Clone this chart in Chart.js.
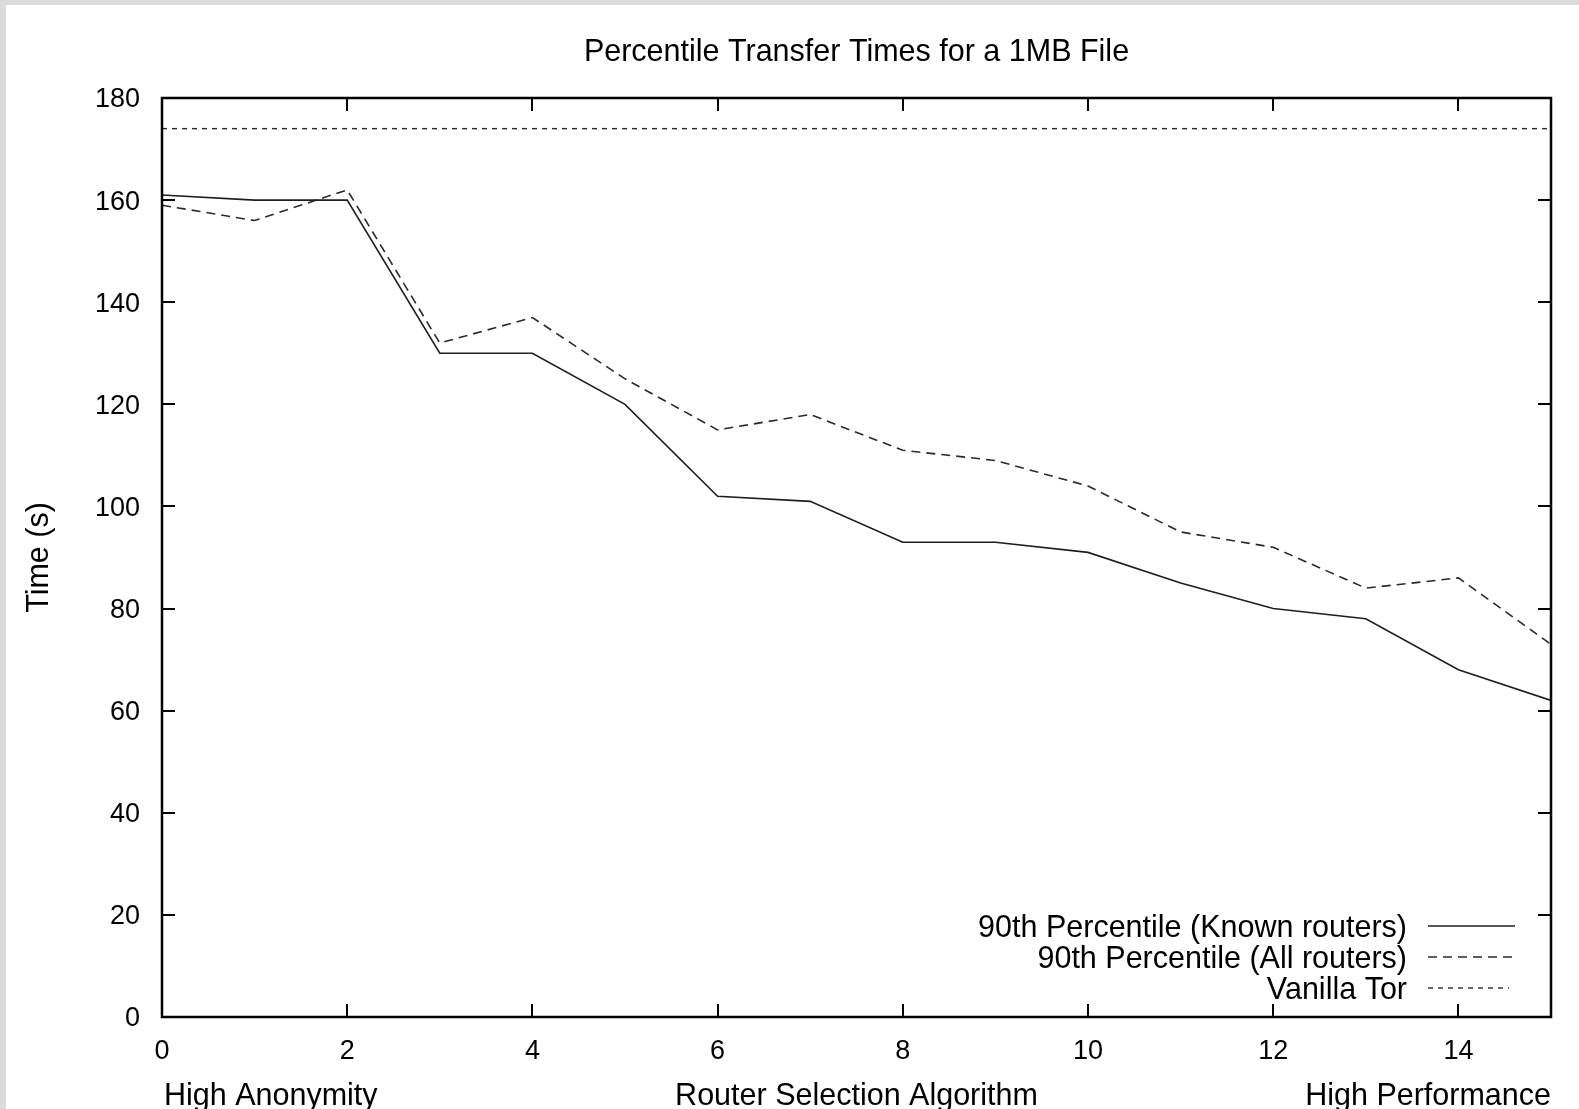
<!DOCTYPE html>
<html>
<head>
<meta charset="utf-8">
<title>Percentile Transfer Times for a 1MB File</title>
<script src="https://cdn.jsdelivr.net/npm/chart.js@4.4.1/dist/chart.umd.min.js"></script>
<style>
  html, body { margin: 0; padding: 0; background: #ffffff; }
  canvas { display: block; }
</style>
</head>
<body>
<canvas id="chart" width="1579" height="1109"></canvas>
<script>
// Router selection algorithm index (0 = high anonymity ... 15 = high performance)
const algorithms = [0, 1, 2, 3, 4, 5, 6, 7, 8, 9, 10, 11, 12, 13, 14, 15];

// 90th percentile transfer time (s) for a 1MB file
const knownRouters = [161, 160, 160, 130, 130, 120, 102, 101, 93, 93, 91, 85, 80, 78, 68, 62];
const allRouters   = [159, 156, 162, 132, 137, 125, 115, 118, 111, 109, 104, 95, 92, 84, 86, 73];

// Baseline: unmodified Tor client
const vanillaTor = 174;

const xTicks = [0, 2, 4, 6, 8, 10, 12, 14];
const yTicks = [0, 20, 40, 60, 80, 100, 120, 140, 160, 180];

const seriesNames = [
  '90th Percentile (Known routers)',
  '90th Percentile (All routers)',
  'Vanilla Tor'
];

const titleText = 'Percentile Transfer Times for a 1MB File';
const yTitle = 'Time (s)';
const xTitle = 'Router Selection Algorithm';
const xLeftNote = 'High Anonymity';
const xRightNote = 'High Performance';

const FONT = '"Liberation Sans", Arial, Helvetica, sans-serif';
const LABEL_FONT = '30.5px ' + FONT;

const toPoints = (values) => values.map((v, i) => ({ x: algorithms[i], y: v }));

const datasets = [
  {
    label: seriesNames[0],
    data: toPoints(knownRouters),
    borderColor: '#1e1e1e',
    borderWidth: 1.6,
    borderDash: []
  },
  {
    label: seriesNames[1],
    data: toPoints(allRouters),
    borderColor: '#2a2a2a',
    borderWidth: 1.6,
    borderDash: [9, 6]
  },
  {
    label: seriesNames[2],
    data: [
      { x: algorithms[0], y: vanillaTor },
      { x: algorithms[algorithms.length - 1], y: vanillaTor }
    ],
    borderColor: '#2a2a2a',
    borderWidth: 1.4,
    borderDash: [5, 5]
  }
].map(d => Object.assign({ pointRadius: 0, pointHoverRadius: 0, tension: 0, fill: false }, d));

// Page background, gnuplot-style frame with inward ticks, key and labels
const decorations = {
  id: 'decorations',
  beforeDraw(chart) {
    const ctx = chart.ctx;
    ctx.save();
    ctx.fillStyle = '#ffffff';
    ctx.fillRect(0, 0, chart.width, chart.height);
    ctx.fillStyle = '#dcdcdc';
    ctx.fillRect(0, 0, chart.width, 5);
    ctx.fillRect(0, 0, 6, chart.height);
    ctx.restore();
  },
  afterDraw(chart) {
    const ctx = chart.ctx;
    const area = chart.chartArea;
    const xs = chart.scales.x;
    const ys = chart.scales.y;
    const tick = 13;

    ctx.save();
    ctx.strokeStyle = '#000000';
    ctx.lineWidth = 2;
    ctx.setLineDash([]);

    // tick marks on all four sides, pointing into the plot
    ctx.beginPath();
    xTicks.forEach(v => {
      const px = Math.round(xs.getPixelForValue(v));
      ctx.moveTo(px, area.bottom); ctx.lineTo(px, area.bottom - tick);
      ctx.moveTo(px, area.top);    ctx.lineTo(px, area.top + tick);
    });
    yTicks.forEach(v => {
      const py = Math.round(ys.getPixelForValue(v));
      ctx.moveTo(area.left, py);  ctx.lineTo(area.left + tick, py);
      ctx.moveTo(area.right, py); ctx.lineTo(area.right - tick, py);
    });
    ctx.stroke();

    // plot border
    ctx.lineWidth = 2.5;
    ctx.strokeRect(area.left, area.top, area.right - area.left, area.bottom - area.top);

    // title
    ctx.fillStyle = '#000000';
    ctx.font = LABEL_FONT;
    ctx.textBaseline = 'alphabetic';
    ctx.textAlign = 'center';
    const cx = (area.left + area.right) / 2;
    ctx.fillText(titleText, cx, 61);

    // x-axis labels
    ctx.fillText(xTitle, cx, 1105);
    ctx.textAlign = 'left';
    ctx.fillText(xLeftNote, area.left + 2, 1105);
    ctx.textAlign = 'right';
    ctx.fillText(xRightNote, area.right, 1105);

    // y-axis title
    ctx.save();
    ctx.translate(48, (area.top + area.bottom) / 2);
    ctx.rotate(-Math.PI / 2);
    ctx.textAlign = 'center';
    ctx.fillText(yTitle, 0, 0);
    ctx.restore();

    // key, bottom right inside the plot
    const rowY = [926, 957, 988];
    const textRight = area.right - 144;
    const sampleL = area.right - 123;
    const sampleR = area.right - 36;
    chart.data.datasets.forEach((ds, i) => {
      ctx.textAlign = 'right';
      ctx.textBaseline = 'alphabetic';
      ctx.fillStyle = '#000000';
      ctx.fillText(ds.label, textRight, rowY[i] + 10.5);
      ctx.beginPath();
      ctx.strokeStyle = ds.borderColor;
      ctx.lineWidth = ds.borderWidth;
      ctx.setLineDash(ds.borderDash);
      ctx.moveTo(sampleL, rowY[i]);
      ctx.lineTo(i === 2 ? sampleR - 6 : sampleR, rowY[i]);
      ctx.stroke();
    });
    ctx.restore();
  }
};

new Chart(document.getElementById('chart'), {
  type: 'line',
  data: { datasets },
  options: {
    responsive: false,
    animation: false,
    devicePixelRatio: 1,
    layout: { padding: { top: 98, right: 28, left: 0, bottom: 0 } },
    plugins: {
      legend: { display: false },
      title: { display: false },
      tooltip: { enabled: false }
    },
    scales: {
      x: {
        type: 'linear',
        min: 0,
        max: 15,
        grid: { display: false, drawTicks: false },
        border: { display: false },
        ticks: {
          stepSize: 2,
          includeBounds: false,
          autoSkip: false,
          maxRotation: 0,
          padding: 18,
          color: '#000000',
          font: { family: FONT, size: 27 }
        },
        afterFit(scale) { scale.height = 92; }
      },
      y: {
        type: 'linear',
        min: 0,
        max: 180,
        grid: { display: false, drawTicks: false },
        border: { display: false },
        ticks: {
          stepSize: 20,
          padding: 22,
          labelOffset: 2,
          color: '#000000',
          font: { family: FONT, size: 27 }
        },
        afterFit(scale) { scale.width = 162; }
      }
    }
  },
  plugins: [decorations]
});
</script>
</body>
</html>
